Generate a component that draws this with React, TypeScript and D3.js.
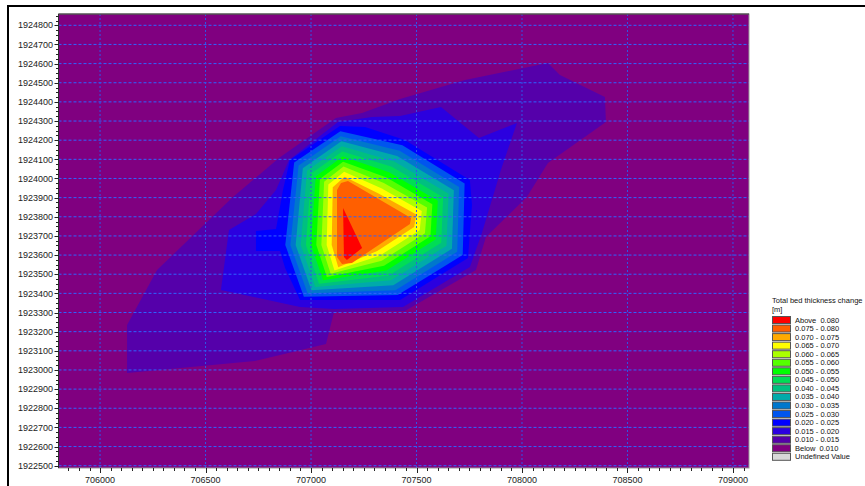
import React from "react";
import * as d3 from "d3";

// axis ticks (UTM metres)
const xTicks = [706000, 706500, 707000, 707500, 708000, 708500, 709000];
const yTicks = [
  1922500, 1922600, 1922700, 1922800, 1922900, 1923000, 1923100, 1923200,
  1923300, 1923400, 1923500, 1923600, 1923700, 1923800, 1923900, 1924000,
  1924100, 1924200, 1924300, 1924400, 1924500, 1924600, 1924700, 1924800,
];

// legend, top to bottom
const legendLabels = [
  "Above  0.080", "0.075 - 0.080", "0.070 - 0.075", "0.065 - 0.070",
  "0.060 - 0.065", "0.055 - 0.060", "0.050 - 0.055", "0.045 - 0.050",
  "0.040 - 0.045", "0.035 - 0.040", "0.030 - 0.035", "0.025 - 0.030",
  "0.020 - 0.025", "0.015 - 0.020", "0.010 - 0.015", "Below  0.010",
  "Undefined Value",
];
const legendColors = [
  "#ff0000", "#ff5f00", "#ffaa00", "#ffff00", "#aaff00", "#55ff00",
  "#00ff00", "#00dd55", "#00c080", "#00aaaa", "#0077cc", "#0055ee",
  "#0000ff", "#2b00df", "#5500aa", "#800080", "#d8d8d8",
];

// outlines of the area above each contour level, [easting, northing]
const above010 = [
  [706128, 1922984], [706128, 1923235], [706270, 1923522], [706630, 1923903],
  [706848, 1924107], [707118, 1924316], [707242, 1924342], [707422, 1924415],
  [707730, 1924514], [708123, 1924603], [708180, 1924540], [708393, 1924425],
  [708398, 1924295], [708123, 1924081], [708023, 1923903], [707829, 1923694],
  [707782, 1923522], [707445, 1923308], [707109, 1923303], [707071, 1923136],
  [706734, 1923047],
];
const above015 = [
  [706573, 1923418], [706611, 1923731], [706739, 1923815], [706834, 1923940],
  [706896, 1924097], [707128, 1924295], [707289, 1924321], [707422, 1924326],
  [707616, 1924373], [707796, 1924211], [707976, 1924290], [707900, 1924044],
  [707810, 1923715], [707753, 1923538], [707436, 1923329], [707109, 1923318],
  [706948, 1923329],
];
const above020 = [
  [706739, 1923726], [706834, 1923736], [706867, 1923940], [706900, 1924097],
  [707137, 1924274], [707256, 1924269], [707445, 1924201], [707753, 1923992],
  [707763, 1923861], [707744, 1923585], [707422, 1923365], [706948, 1923365],
  [706877, 1923533], [706853, 1923621], [706739, 1923621],
];
const above025 = [
  [706920, 1924083], [707139, 1924247], [707433, 1924173], [707728, 1923974],
  [707719, 1923601], [707411, 1923391], [706966, 1923382], [706878, 1923653],
];
const above030 = [
  [706941, 1924068], [707141, 1924221], [707420, 1924145], [707702, 1923956],
  [707693, 1923617], [707400, 1923416], [706984, 1923399], [706902, 1923653],
];
const above035 = [
  [706961, 1924054], [707144, 1924194], [707408, 1924117], [707677, 1923938],
  [707668, 1923633], [707390, 1923442], [707002, 1923416], [706927, 1923653],
];
const above040 = [
  [706981, 1924040], [707146, 1924168], [707395, 1924089], [707652, 1923920],
  [707642, 1923649], [707379, 1923468], [707020, 1923433], [706951, 1923653],
];
const above045 = [
  [707001, 1924026], [707148, 1924141], [707383, 1924061], [707626, 1923902],
  [707617, 1923665], [707368, 1923493], [707038, 1923450], [706976, 1923653],
];
const above050 = [
  [707022, 1924011], [707150, 1924115], [707370, 1924033], [707601, 1923884],
  [707591, 1923682], [707357, 1923519], [707057, 1923468], [707000, 1923653],
];
const above055 = [
  [707042, 1923997], [707152, 1924088], [707358, 1924005], [707575, 1923866],
  [707566, 1923698], [707346, 1923544], [707075, 1923485], [707025, 1923653],
];
const above060 = [
  [707062, 1923983], [707154, 1924062], [707345, 1923977], [707550, 1923848],
  [707540, 1923714], [707335, 1923570], [707093, 1923502], [707049, 1923653],
];
const above065 = [
  [707082, 1923969], [707157, 1924035], [707333, 1923949], [707525, 1923830],
  [707515, 1923730], [707325, 1923596], [707111, 1923519], [707074, 1923653],
];
const above070 = [
  [707103, 1923954], [707159, 1924009], [707320, 1923921], [707499, 1923812],
  [707489, 1923746], [707314, 1923621], [707129, 1923536], [707098, 1923653],
];
const above075 = [
  [707123, 1923940], [707142, 1923976], [707175, 1923987], [707474, 1923794],
  [707469, 1923762], [707194, 1923559], [707147, 1923553], [707123, 1923590],
];
const above080 = [
  [707152, 1923846], [707242, 1923637], [707170, 1923574], [707156, 1923590],
];

const bands = [
  { color: legendColors[14], pts: above010 },
  { color: legendColors[13], pts: above015 },
  { color: legendColors[12], pts: above020 },
  { color: legendColors[11], pts: above025 },
  { color: legendColors[10], pts: above030 },
  { color: legendColors[9], pts: above035 },
  { color: legendColors[8], pts: above040 },
  { color: legendColors[7], pts: above045 },
  { color: legendColors[6], pts: above050 },
  { color: legendColors[5], pts: above055 },
  { color: legendColors[4], pts: above060 },
  { color: legendColors[3], pts: above065 },
  { color: legendColors[2], pts: above070 },
  { color: legendColors[1], pts: above075 },
  { color: legendColors[0], pts: above080 },
];

const width = 865;
const height = 486;
const plot = { left: 58.5, right: 749, top: 14, bottom: 468 };
const font = "'Liberation Sans', Arial, sans-serif";

const App = () => {
  const x = d3.scaleLinear().domain([705803, 709076]).range([plot.left, plot.right]);
  const y = d3.scaleLinear().domain([1922488, 1924859]).range([plot.bottom, plot.top]);
  const line = d3
    .line<number[]>()
    .x((d) => x(d[0]))
    .y((d) => y(d[1]))
    .curve(d3.curveLinearClosed);

  const xMinor = d3.range(705850, 709076, 50);
  const yMinor = d3.range(1922500, 1924859, 25);

  return (
    <svg
      width={width}
      height={height}
      style={{ position: "absolute", left: 0, top: 0, background: "#fff" }}
      fontFamily={font}
    >
      <defs>
        <clipPath id="plotclip">
          <rect x={plot.left} y={plot.top} width={plot.right - plot.left} height={plot.bottom - plot.top} />
        </clipPath>
      </defs>
      {/* outer frame */}
      <rect x={8} y={6} width={900} height={600} fill="none" stroke="#000" strokeWidth={2} />

      <g clipPath="url(#plotclip)">
        <rect x={plot.left} y={plot.top} width={plot.right - plot.left} height={plot.bottom - plot.top} fill={legendColors[15]} />
        {bands.map((b, i) => (
          <path key={i} d={line(b.pts) || ""} fill={b.color} />
        ))}
        {yTicks.map((t) => (
          <line key={t} x1={plot.left} x2={plot.right} y1={y(t)} y2={y(t)} stroke="#2f63ff" strokeWidth={1} strokeDasharray="3,2" />
        ))}
        {xTicks.map((t) => (
          <line key={t} x1={x(t)} x2={x(t)} y1={plot.top} y2={plot.bottom} stroke="#2f55e8" strokeWidth={1} strokeDasharray="2,2" />
        ))}
      </g>
      <rect x={plot.left} y={plot.top} width={plot.right - plot.left} height={plot.bottom - plot.top} fill="none" stroke="#9a9a9a" strokeWidth={1} />
      <line x1={plot.left} x2={plot.right} y1={plot.top} y2={plot.top} stroke="#303030" />
      <line x1={plot.left} x2={plot.left} y1={plot.top} y2={plot.bottom} stroke="#303030" />

      {/* y axis */}
      {yMinor.map((t) => (
        <line key={t} x1={plot.left - 2.5} x2={plot.left} y1={Math.round(y(t)) + 0.5} y2={Math.round(y(t)) + 0.5} stroke="#222" />
      ))}
      {yTicks.map((t) => (
        <g key={t}>
          <line x1={plot.left - 4} x2={plot.left} y1={Math.round(y(t)) + 0.5} y2={Math.round(y(t)) + 0.5} stroke="#222" />
          <text x={53} y={y(t) + 3.2} textAnchor="end" fontSize={9} fill="#222">
            {t}
          </text>
        </g>
      ))}

      {/* x axis */}
      {xMinor.map((t) => (
        <line key={t} x1={Math.round(x(t)) + 0.5} x2={Math.round(x(t)) + 0.5} y1={plot.bottom} y2={plot.bottom + 3} stroke="#222" />
      ))}
      {xTicks.map((t) => (
        <g key={t}>
          <line x1={Math.round(x(t)) + 0.5} x2={Math.round(x(t)) + 0.5} y1={plot.bottom} y2={plot.bottom + 5} stroke="#222" />
          <text x={x(t)} y={483} textAnchor="middle" fontSize={9} fill="#222">
            {t}
          </text>
        </g>
      ))}

      {/* legend */}
      <text x={772} y={302.5} fontSize={7.5} fill="#111">Total bed thickness change</text>
      <text x={772} y={311.5} fontSize={7.5} fill="#111">[m]</text>
      {legendLabels.map((lab, i) => (
        <g key={lab}>
          <rect x={772.5} y={316.5 + i * 8.55} width={18} height={7} fill={legendColors[i]} stroke="#555" strokeWidth={1} />
          <text x={795} y={322.5 + i * 8.55} fontSize={7.5} fill="#111" xmlSpace="preserve">
            {lab}
          </text>
        </g>
      ))}
    </svg>
  );
};

export default App;
